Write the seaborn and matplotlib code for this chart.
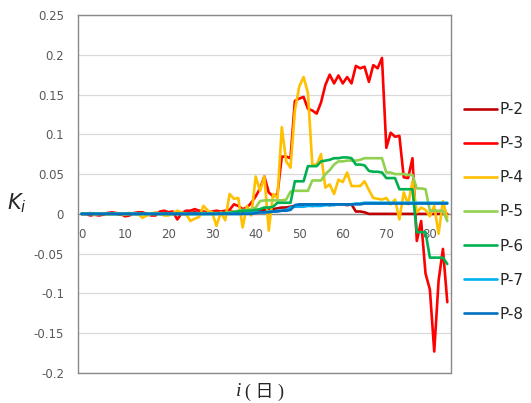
import matplotlib
matplotlib.use("Agg")
import matplotlib.pyplot as plt
import pandas as pd
import seaborn as sns

# Day index (category axis 0..84)
days = list(range(85))

p2 = [0.0, 0.0, 0.001, 0.0, -0.001, 0.0, 0.001, 0.0, 0.0, -0.001,
      0.0, 0.001, 0.0, 0.0, 0.001, 0.0, -0.001, 0.0, 0.001, 0.0,
      0.001, 0.0, 0.001, 0.0, 0.0, 0.001, 0.002, 0.001, 0.001, 0.002,
      0.001, 0.002, 0.002, 0.002, 0.003, 0.003, 0.003, 0.002, 0.003, 0.003,
      0.004, 0.004, 0.005, 0.006, 0.006, 0.007, 0.008, 0.008, 0.009, 0.010,
      0.010, 0.011, 0.011, 0.010, 0.011, 0.011, 0.012, 0.011, 0.012, 0.012,
      0.012, 0.011, 0.012, 0.003, 0.003, 0.002, 0.0, 0.0, 0.0, 0.0,
      0.0, 0.0, 0.0, 0.0, 0.0, 0.0, 0.0, 0.0, 0.0, 0.0,
      0.0, 0.0, 0.0, 0.0, 0.0]
p3 = [0.0, 0.0, -0.002, -0.001, -0.002, -0.001, 0.001, 0.002, 0.001, 0.0,
      -0.003, -0.002, 0.001, 0.002, 0.002, 0.0, -0.002, -0.002, 0.003, 0.004,
      0.002, 0.003, -0.007, 0.001, 0.004, 0.004, 0.006, 0.004, 0.003, 0.002,
      0.003, 0.004, 0.003, 0.004, 0.005, 0.012, 0.010, 0.006, 0.008, 0.014,
      0.022, 0.032, 0.047, 0.027, 0.022, 0.025, 0.072, 0.072, 0.070, 0.142,
      0.145, 0.147, 0.132, 0.130, 0.126, 0.140, 0.162, 0.175, 0.164, 0.174,
      0.164, 0.172, 0.164, 0.186, 0.183, 0.185, 0.166, 0.187, 0.183, 0.196,
      0.083, 0.102, 0.097, 0.098, 0.046, 0.045, 0.070, -0.034, -0.009, -0.075,
      -0.095, -0.173, -0.084, -0.044, -0.111]
p4 = [0.0, 0.0, 0.001, -0.001, 0.0, 0.001, -0.001, 0.0, 0.001, 0.0,
      -0.001, 0.0, 0.001, 0.0, -0.005, -0.002, 0.0, 0.002, 0.0, -0.002,
      -0.002, 0.001, 0.004, 0.002, 0.0, -0.009, -0.006, -0.004, 0.010, 0.004,
      0.002, -0.015, 0.002, -0.008, 0.025, 0.019, 0.020, -0.017, 0.010, -0.002,
      0.047, 0.029, 0.047, -0.021, 0.025, 0.020, 0.109, 0.066, 0.058, 0.130,
      0.160, 0.172, 0.152, 0.062, 0.062, 0.075, 0.033, 0.037, 0.025, 0.043,
      0.040, 0.052, 0.035, 0.035, 0.035, 0.041, 0.030, 0.020, 0.019, 0.018,
      0.020, 0.012, 0.018, -0.007, 0.027, 0.012, 0.041, 0.002, 0.008, 0.005,
      -0.003, 0.010, -0.025, 0.016, -0.005]
p5 = [0.0, 0.0, 0.0, 0.0, 0.0, 0.0, 0.0, 0.0, 0.0, 0.0,
      0.0, 0.0, 0.0, 0.0, 0.0, 0.0, 0.0, 0.0, 0.0, 0.0,
      0.0, 0.0, 0.0, 0.0, 0.0, 0.0, 0.0, 0.0, 0.001, 0.001,
      0.001, 0.001, 0.001, 0.001, 0.002, 0.003, 0.004, 0.005, 0.005, 0.006,
      0.008, 0.016, 0.017, 0.017, 0.017, 0.017, 0.017, 0.018, 0.028, 0.029,
      0.029, 0.029, 0.029, 0.042, 0.042, 0.042, 0.050, 0.055, 0.062, 0.066,
      0.066, 0.067, 0.067, 0.067, 0.068, 0.070, 0.070, 0.070, 0.070, 0.070,
      0.052, 0.052, 0.050, 0.050, 0.050, 0.049, 0.049, 0.032, 0.032, 0.031,
      0.004, 0.004, 0.004, 0.004, -0.009]
p6 = [0.0, 0.0, 0.0, 0.0, 0.0, 0.0, 0.0, 0.0, 0.0, 0.0,
      0.0, 0.0, 0.0, 0.0, 0.0, 0.0, 0.0, 0.0, 0.0, 0.0,
      0.0, 0.0, 0.0, 0.0, 0.0, 0.0, 0.0, 0.0, 0.0, 0.0,
      0.0, 0.0, 0.001, 0.001, 0.001, 0.002, 0.003, 0.004, 0.004, 0.004,
      0.005, 0.006, 0.008, 0.008, 0.009, 0.014, 0.014, 0.014, 0.014, 0.041,
      0.041, 0.041, 0.060, 0.060, 0.060, 0.066, 0.067, 0.068, 0.070, 0.070,
      0.071, 0.071, 0.070, 0.062, 0.062, 0.061, 0.054, 0.053, 0.053, 0.052,
      0.045, 0.045, 0.045, 0.031, 0.031, 0.031, 0.031, -0.023, -0.023, -0.023,
      -0.055, -0.055, -0.055, -0.055, -0.063]
p7 = [0.0, 0.0, 0.0, 0.0, 0.0, 0.0, 0.0, 0.0, 0.0, 0.0,
      0.0, 0.0, 0.0, 0.0, 0.0, 0.0, 0.0, 0.0, 0.0, 0.0,
      0.0, 0.0, 0.0, 0.0, 0.0, 0.0, 0.0, 0.0, 0.0, 0.0,
      0.0, 0.0, 0.0, 0.0, 0.0, 0.0, 0.0, 0.0, 0.001, 0.001,
      0.002, 0.002, 0.002, 0.003, 0.003, 0.004, 0.004, 0.005, 0.008, 0.009,
      0.009, 0.009, 0.010, 0.010, 0.010, 0.010, 0.011, 0.011, 0.011, 0.012,
      0.012, 0.012, 0.012, 0.013, 0.013, 0.014, 0.014, 0.014, 0.014, 0.014,
      0.014, 0.014, 0.014, 0.014, 0.014, 0.014, 0.014, 0.014, 0.014, 0.014,
      0.014, 0.014, 0.014, 0.014, 0.014]
p8 = [0.0, 0.0, 0.0, 0.0, 0.0, 0.0, 0.0, 0.0, 0.0, 0.0,
      0.0, 0.0, 0.0, 0.0, 0.0, 0.0, 0.0, 0.0, 0.0, 0.0,
      0.0, 0.0, 0.0, 0.0, 0.0, 0.0, 0.0, 0.0, 0.0, 0.0,
      0.0, 0.0, 0.0, 0.0, 0.0, 0.0, 0.0, 0.0, 0.0, 0.0,
      0.001, 0.002, 0.002, 0.002, 0.003, 0.003, 0.004, 0.004, 0.005, 0.011,
      0.012, 0.012, 0.012, 0.012, 0.012, 0.012, 0.012, 0.012, 0.012, 0.012,
      0.012, 0.012, 0.012, 0.012, 0.012, 0.013, 0.013, 0.013, 0.013, 0.013,
      0.013, 0.013, 0.013, 0.013, 0.013, 0.013, 0.013, 0.013, 0.013, 0.013,
      0.013, 0.013, 0.013, 0.013, 0.013]

series_names = ["P-2", "P-3", "P-4", "P-5", "P-6", "P-7", "P-8"]
series_values = [p2, p3, p4, p5, p6, p7, p8]
colors = {"P-2": "#C00000", "P-3": "#FF0000", "P-4": "#FFC000", "P-5": "#92D050",
          "P-6": "#00B050", "P-7": "#00B0F0", "P-8": "#0070C0"}

xticks = [0, 10, 20, 30, 40, 50, 60, 70, 80]
yticks = [-0.2, -0.15, -0.1, -0.05, 0, 0.05, 0.1, 0.15, 0.2, 0.25]
ytick_labels = ["-0.2", "-0.15", "-0.1", "-0.05", "0", "0.05", "0.1", "0.15", "0.2", "0.25"]

# Long-form table for seaborn
frames = []
for name, vals in zip(series_names, series_values):
    frames.append(pd.DataFrame({"day": days, "K": vals, "point": name}))
df = pd.concat(frames, ignore_index=True)

sns.set_style("white")
plt.rcParams["font.family"] = ["DejaVu Sans"]

fig = plt.figure(figsize=(5.31, 4.03), dpi=100)
ax = fig.add_axes([78 / 531, 30 / 403, 373 / 531, 358 / 403])

sns.lineplot(data=df, x="day", y="K", hue="point", hue_order=series_names,
             palette=colors, linewidth=1.9, errorbar=None, ax=ax)

# Axes formatting
ax.set_xlim(-0.8, 84.85)
ax.set_ylim(-0.2, 0.25)
ax.set_xticks(xticks)
ax.set_yticks(yticks)
ax.set_yticklabels(ytick_labels)
ax.tick_params(length=0, labelsize=8.5, labelcolor="#595959")
ax.tick_params(axis="x", pad=10)
ax.tick_params(axis="y", pad=10)
ax.set_xlabel("")
ax.set_ylabel("")

ax.yaxis.grid(True, color="#D9D9D9", linewidth=0.9)
ax.xaxis.grid(False)
ax.set_axisbelow(True)

for s in ax.spines.values():
    s.set_color("#898989")
    s.set_linewidth(1.0)
ax.spines["bottom"].set_position(("data", 0))
ax.spines["bottom"].set_zorder(1.5)
ax.axhline(-0.2, color="#898989", linewidth=1.0, clip_on=False)

# Legend on the right
sns.move_legend(ax, "center left", bbox_to_anchor=(464 / 531, 0.474),
                bbox_transform=fig.transFigure, frameon=False, title=None,
                borderpad=0, borderaxespad=0, handlelength=2.15,
                handletextpad=0.15, labelspacing=1.25, fontsize=11)

# Axis titles
fig.text(17 / 531, 1 - 203 / 403, "$K_i$", fontsize=15, ha="center", va="center")
fig.text(239 / 531, 1 - 392 / 403, "i", fontsize=14, family="Liberation Serif",
         style="italic", ha="center", va="center")
fig.text(245 / 531, 1 - 392 / 403, "( 日 )", fontsize=13,
         family=["Liberation Serif", "Noto Sans CJK JP"], ha="left", va="center")

fig.savefig("out.png", dpi=100)
